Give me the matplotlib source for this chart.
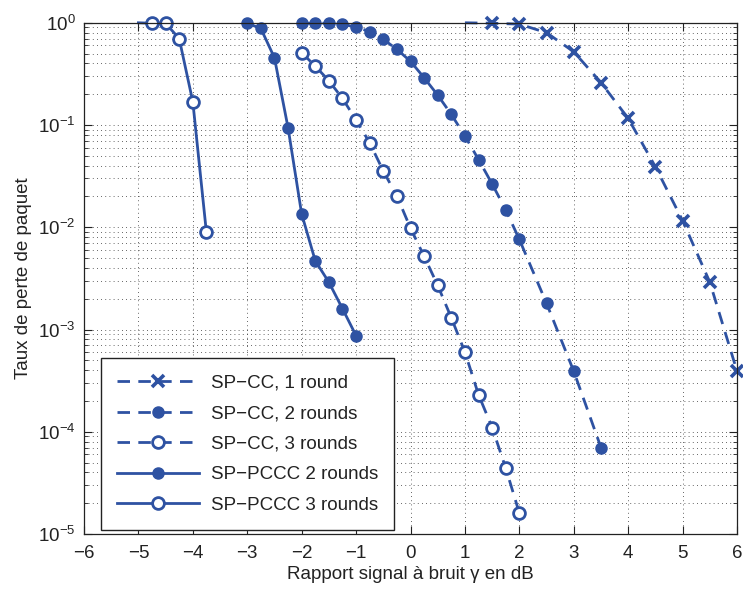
import matplotlib
matplotlib.use("Agg")
import matplotlib.pyplot as plt
from matplotlib.ticker import LogLocator, NullFormatter, FixedLocator

plt.rcParams['font.family'] = ['Liberation Sans', 'DejaVu Sans']
plt.rcParams['mathtext.fontset'] = 'custom'
plt.rcParams['mathtext.rm'] = 'Liberation Sans'
plt.rcParams['mathtext.it'] = 'Liberation Sans:italic'
plt.rcParams['mathtext.default'] = 'regular'

# ---- data ----
cc1_x = [1.0, 1.5, 2.0, 2.5, 3.0, 3.5, 4.0, 4.5, 5.0, 5.5, 6.0]
cc1_y = [1.0, 0.99, 0.97, 0.80, 0.52, 0.26, 0.116, 0.039, 0.0116, 0.0029, 0.00039]

cc2_x = [-2, -1.75, -1.5, -1.25, -1, -0.75, -0.5, -0.25, 0, 0.25, 0.5, 0.75,
         1, 1.25, 1.5, 1.75, 2, 2.5, 3, 3.5]
cc2_y = [0.99, 0.99, 0.99, 0.965, 0.91, 0.82, 0.69, 0.55, 0.42, 0.29, 0.196, 0.127,
         0.078, 0.046, 0.0265, 0.0148, 0.0076, 0.0018, 0.00039, 0.00007]

cc3_x = [-2, -1.75, -1.5, -1.25, -1, -0.75, -0.5, -0.25, 0, 0.25, 0.5, 0.75,
         1, 1.25, 1.5, 1.75, 2]
cc3_y = [0.51, 0.377, 0.271, 0.182, 0.112, 0.067, 0.0355, 0.0202, 0.0098, 0.0052,
         0.0027, 0.0013, 0.0006, 0.00023, 0.00011, 0.000044, 0.000016]

pccc2_x = [-3, -2.75, -2.5, -2.25, -2, -1.75, -1.5, -1.25, -1]
pccc2_y = [0.99, 0.88, 0.455, 0.094, 0.0135, 0.0047, 0.0029, 0.0016, 0.00087]

pccc3_x = [-5, -4.75, -4.5, -4.25, -4, -3.75]
pccc3_y = [1.0, 0.99, 0.99, 0.70, 0.169, 0.0089]

labels = ["SP\u2212CC, 1 round", "SP\u2212CC, 2 rounds", "SP\u2212CC, 3 rounds",
          "SP\u2212PCCC 2 rounds", "SP\u2212PCCC 3 rounds"]
x_ticks = [-6, -5, -4, -3, -2, -1, 0, 1, 2, 3, 4, 5, 6]

color = '#2E52A2'
lw = 2.0
dash = (4.5, 3.0)

fig = plt.figure(figsize=(7.43, 5.92), dpi=100)
ax = fig.add_axes([0.113, 0.098, 0.879, 0.8635])
ax.set_yscale('log')

ax.plot(cc1_x, cc1_y, color=color, lw=lw, dashes=dash, marker='x', ms=8, mew=2.6,
        markevery=list(range(1, len(cc1_x))), clip_on=False, label=labels[0])
ax.plot(cc2_x, cc2_y, color=color, lw=lw, dashes=dash, marker='o', ms=8,
        clip_on=False, label=labels[1])
ax.plot(cc3_x, cc3_y, color=color, lw=lw, dashes=dash, marker='o', ms=8.5,
        mfc='white', mew=2.0, clip_on=False, label=labels[2])
ax.plot(pccc2_x, pccc2_y, color=color, lw=lw, ls='-', marker='o', ms=8,
        clip_on=False, label=labels[3])
ax.plot(pccc3_x, pccc3_y, color=color, lw=lw, ls='-', marker='o', ms=8.5,
        mfc='white', mew=2.0, markevery=list(range(1, len(pccc3_x))),
        clip_on=False, label=labels[4])

ax.set_xlim(-6, 6)
ax.set_ylim(1e-5, 1)
ax.xaxis.set_major_locator(FixedLocator(x_ticks))
ax.yaxis.set_major_locator(LogLocator(base=10, numticks=10))
ax.yaxis.set_minor_locator(LogLocator(base=10, subs=range(2, 10), numticks=20))
ax.yaxis.set_minor_formatter(NullFormatter())

grid_style = dict(color='#333333', lw=0.6, ls=(0, (1, 4)))
ax.grid(True, which='major', axis='both', **grid_style)
ax.grid(True, which='minor', axis='y', **grid_style)
ax.set_axisbelow(True)

ax.tick_params(which='both', direction='in', top=True, right=True, labelsize=13.5,
               colors='#222222')
ax.tick_params(which='major', length=6, width=0.8)
ax.tick_params(which='minor', length=3, width=0.6)
ax.tick_params(axis='x', which='major', pad=8)
ax.tick_params(axis='y', which='major', pad=6)
for s in ax.spines.values():
    s.set_linewidth(0.9)
    s.set_color('#222222')

ax.set_xlabel("Rapport signal \u00e0 bruit \u03b3 en dB", fontsize=13.5, color='#222222', labelpad=3)
ax.set_ylabel("Taux de perte de paquet", fontsize=13.5, color='#222222', labelpad=4)

leg = ax.legend(loc='lower left', bbox_to_anchor=(0.026, 0.008), fontsize=13.5,
                handlelength=4.4, labelspacing=0.72, borderpad=0.85,
                handletextpad=0.6, fancybox=False, framealpha=1,
                edgecolor='#222222', numpoints=1, borderaxespad=0)
leg.get_frame().set_linewidth(1.0)
for t in leg.get_texts():
    t.set_color('#222222')

fig.savefig('out.png', dpi=100)
